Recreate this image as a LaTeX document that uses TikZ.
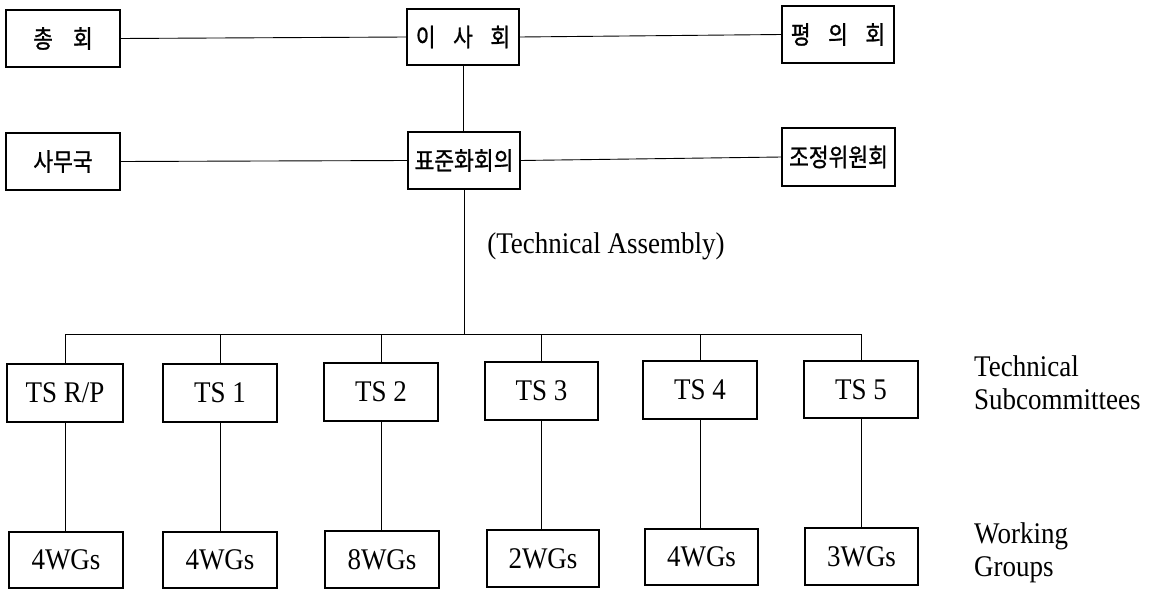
\documentclass[tikz,border=0pt]{standalone}
\usepackage{fontspec}
\setmainfont{Liberation Serif}[FakeStretch=0.9]
\newfontfamily\kr{Noto Sans CJK KR}[FakeStretch=0.86, FakeBold=1]
\begin{document}
\begin{tikzpicture}[x=1pt,y=-1pt,
  box/.style={draw, line width=1.1pt, minimum width=114pt, minimum height=57pt, inner sep=0pt},
  krbox/.style={box, font=\kr\fontsize{25}{27}\selectfont},
  enbox/.style={box, font=\fontsize{30}{32}\selectfont},
  lbl/.style={font=\fontsize{30}{33}\selectfont, inner sep=0pt},
  conn/.style={line width=0.9pt}]
\useasboundingbox (0,0) rectangle (1151,589);
% top rows
\node[krbox] (ch) at (63,38.5) {총\hspace{0.8em}회};
\node[krbox, minimum width=112pt, minimum height=56pt] (is) at (463,37) {이\hspace{0.7em}사\hspace{0.7em}회};
\node[krbox, minimum width=112pt] (py) at (838,34.5) {평\hspace{0.7em}의\hspace{0.7em}회};
\node[krbox] (sm) at (63,161.5) {사무국};
\node[krbox, minimum width=112pt] (std) at (464,160.5) {표준화회의};
\node[krbox, minimum width=113pt, minimum height=58pt] (jj) at (838.5,157) {조정위원회};
\draw[conn] (ch.east) -- (is.west);
\draw[conn] (is.east) -- (py.west);
\draw[conn] (sm.east) -- (std.west);
\draw[conn] (std.east) -- (jj.west);
\draw[conn] (is.south) -- (is.south |- std.north);
% technical assembly
\node[lbl] (ta) at (606,246) {(Technical Assembly)};
\coordinate (bus) at (464,334);
\draw[conn] (std.south) -- (bus);
% TS boxes
\node[enbox, minimum width=116pt, minimum height=58pt] (tsrp) at (65,393) {TS R/P};
\node[enbox, minimum height=58pt] (ts1) at (220,393) {TS 1};
\node[enbox, minimum height=58pt] (ts2) at (381,392) {TS 2};
\node[enbox, minimum width=113pt, minimum height=58pt] (ts3) at (541.5,391) {TS 3};
\node[enbox, minimum height=58pt] (ts4) at (700,390) {TS 4};
\node[enbox] (ts5) at (861,389.5) {TS 5};
% WG boxes
\node[enbox, minimum height=56pt] (wg0) at (66,560) {4WGs};
\node[enbox, minimum height=56pt] (wg1) at (220,560) {4WGs};
\node[enbox] (wg2) at (382,559.5) {8WGs};
\node[enbox, minimum width=112pt] (wg3) at (543,558.5) {2WGs};
\node[enbox, minimum width=113pt, minimum height=56pt] (wg4) at (701.5,557) {4WGs};
\node[enbox, minimum width=113pt] (wg5) at (861.5,556.5) {3WGs};
% bus
\draw[conn] (tsrp.north |- bus) -- (ts5.north |- bus);
\foreach \t/\w in {tsrp/wg0, ts1/wg1, ts2/wg2, ts3/wg3, ts4/wg4, ts5/wg5}{
  \draw[conn] (\t.north) -- (\t.north |- bus);
  \draw[conn] (\t.south) -- (\t.south |- \w.north);
}
% side labels
\node[lbl, align=left, anchor=west] (tsc) at (974,383) {Technical\\Subcommittees};
\node[lbl, align=left, anchor=west] (wgl) at (974,553) {Working\\Groups};
\end{tikzpicture}
\end{document}
